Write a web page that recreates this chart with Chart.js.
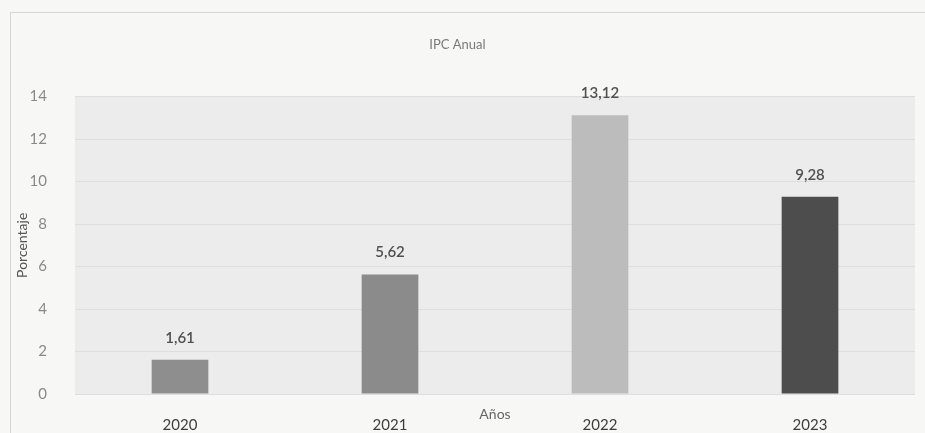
<!DOCTYPE html>
<html>
<head>
<meta charset="utf-8">
<script src="https://cdn.jsdelivr.net/npm/chart.js@4"></script>
<style>
  html, body { margin: 0; padding: 0; background: #f7f7f5; }
  #wrap { position: relative; width: 925px; height: 433px; }
  #frame { position: absolute; left: 10px; top: 12px; width: 930px; height: 440px; border-left: 1px solid #d6d6d6; border-top: 1px solid #d6d6d6; }
  canvas { position: absolute; left: 0; top: 0; }
</style>
</head>
<body>
<div id="wrap">
  <div id="frame"></div>
  <canvas id="c" width="925" height="433"></canvas>
</div>
<script>
const categories = ['2020', '2021', '2022', '2023'];
const ipcValues = [1.61, 5.62, 13.12, 9.28];
const barColors = ['#8e8e8e', '#8b8b8b', '#bcbcbc', '#4d4d4d'];
const yTicks = [0, 2, 4, 6, 8, 10, 12, 14];

const FONT = "Lato, 'Liberation Sans', sans-serif";

const areaBg = {
  id: 'areaBg',
  beforeDraw(chart) {
    const { ctx, chartArea: a } = chart;
    ctx.save();
    ctx.fillStyle = '#ececec';
    ctx.fillRect(a.left, a.top, a.right - a.left, a.bottom - a.top);
    ctx.restore();
  }
};

const valueLabels = {
  id: 'valueLabels',
  afterDatasetsDraw(chart) {
    const { ctx } = chart;
    const meta = chart.getDatasetMeta(0);
    ctx.save();
    ctx.font = "600 15px " + FONT;
    ctx.fillStyle = '#505050';
    ctx.textAlign = 'center';
    ctx.textBaseline = 'middle';
    meta.data.forEach((bar, i) => {
      const v = chart.data.datasets[0].data[i];
      ctx.fillText(v.toFixed(2).replace('.', ','), bar.x, bar.y - 22);
    });
    ctx.restore();
  }
};

new Chart(document.getElementById('c'), {
  type: 'bar',
  data: {
    labels: categories,
    datasets: [{
      data: ipcValues,
      backgroundColor: barColors,
      borderWidth: 0,
      barPercentage: 0.27,
      categoryPercentage: 1.0
    }]
  },
  options: {
    responsive: false,
    animation: false,
    devicePixelRatio: 1,
    layout: { padding: { left: 0, right: 10, top: 0, bottom: 0 } },
    plugins: {
      legend: { display: false },
      tooltip: { enabled: false },
      title: {
        display: true,
        text: 'IPC Anual',
        color: '#7a7a7a',
        font: { family: FONT, size: 13, weight: 'normal' },
        padding: { top: 37, bottom: 44 }
      }
    },
    scales: {
      x: {
        grid: { display: false, drawTicks: false },
        border: { display: false },
        ticks: { color: '#3e3e3e', font: { family: FONT, size: 15 }, padding: 22 },
        title: {
          display: true,
          text: 'Años',
          color: '#666',
          font: { family: FONT, size: 14 },
          padding: { top: 0, bottom: 10 }
        },
        afterFit(scale) { scale.height = 39; }
      },
      y: {
        min: 0,
        max: 14,
        afterBuildTicks(scale) { scale.ticks = yTicks.map(v => ({ value: v })); },
        grid: { color: '#dedede', drawTicks: false },
        border: { display: false },
        ticks: { color: '#8a8a8a', font: { family: FONT, size: 15 }, padding: 28 },
        title: {
          display: true,
          text: 'Porcentaje',
          color: '#555',
          font: { family: FONT, size: 14 },
          padding: { top: 14, bottom: 0 }
        },
        afterFit(scale) { scale.width = 75; }
      }
    }
  },
  plugins: [areaBg, valueLabels]
});
</script>
</body>
</html>
